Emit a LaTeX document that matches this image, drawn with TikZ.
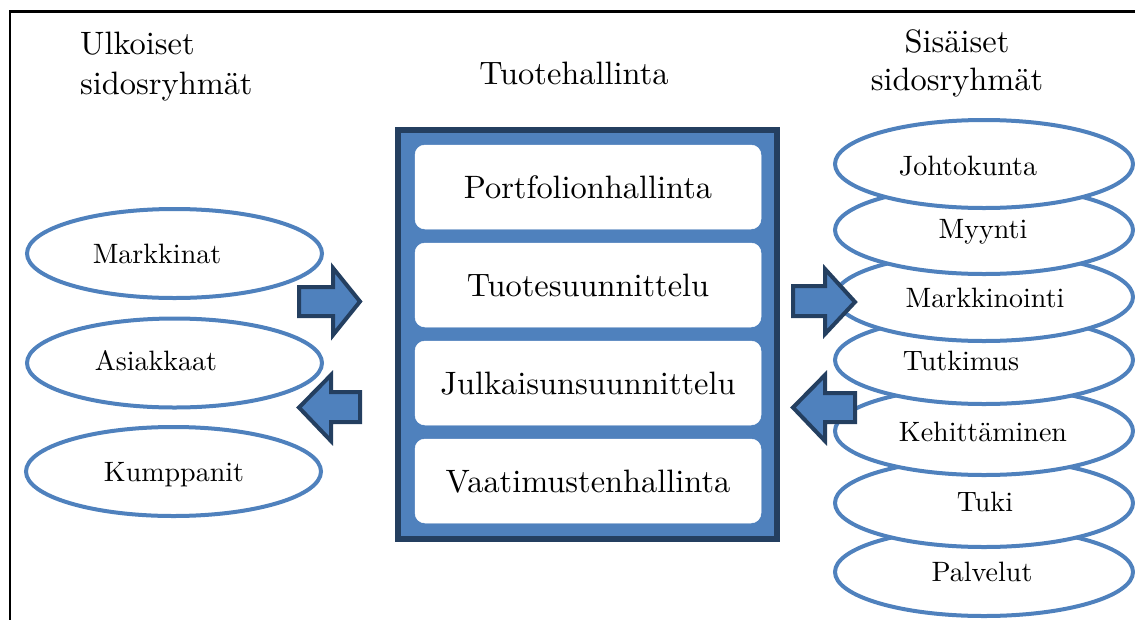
\documentclass[tikz,border=0pt]{standalone}
\usepackage{fontspec}
\setmainfont{lmroman10-regular.otf}
\usetikzlibrary{shapes.geometric}
\definecolor{accent}{HTML}{4F81BD}
\definecolor{accentdark}{HTML}{243F60}
\begin{document}
\begin{tikzpicture}[x=1pt,y=-1pt,
  ell/.style={ellipse,draw=accent,line width=4pt,fill=white,inner sep=0pt},
  leftell/.style={ell,minimum width=295pt,minimum height=89pt},
  rightell/.style={ell,minimum width=298pt,minimum height=88pt},
  ellfont/.style={font=\fontsize{28}{32}\selectfont,anchor=base,inner sep=0pt},
  title/.style={font=\fontsize{32.4}{38}\selectfont,anchor=base,inner sep=0pt},
  panel/.style={draw=accentdark,fill=accent,line width=6pt},
  item/.style={rounded corners=10pt,fill=white,draw=white,line width=0.5pt},
  itemtext/.style={font=\fontsize{32.4}{38}\selectfont,anchor=base,inner sep=0pt},
  blockarrow/.style={draw=accentdark,fill=accent,line width=4pt,line join=miter}]
\useasboundingbox (0,0) rectangle (1135,619);

% outer frame (only its top and left sides fall inside the page)
\draw[line width=2.5pt] (10,640) -- (10,11.5) -- (1150,11.5);

% headings
\node[title,anchor=base west] (h1a) at (80,54) {Ulkoiset};
\node[title,anchor=base west] (h1b) at (80,94) {sidosryhmät};
\node[title] (h2) at (574,84) {Tuotehallinta};
\node[title] (h3a) at (957,52) {Sisäiset};
\node[title] (h3b) at (957,90) {sidosryhmät};

% external stakeholders
\node[leftell] (markkinat) at (174.5,253.5) {};
\node[ellfont] (tmarkkinat) at (157,263) {Markkinat};
\node[leftell] (asiakkaat) at (174.5,363) {};
\node[ellfont] (tasiakkaat) at (156,370) {Asiakkaat};
\node[leftell] (kumppanit) at (173.5,471.5) {};
\node[ellfont] (tkumppanit) at (174,481) {Kumppanit};

% product management panel
\draw[panel] (398,130) rectangle (777,539);
\foreach \i/\t in {0/Portfolionhallinta,1/Tuotesuunnittelu,2/Julkaisunsuunnittelu,3/Vaatimustenhallinta}{
  \path[item] (415,145+98*\i) rectangle (761,229+98*\i);
  \node[itemtext] (item\i) at (588,198+98*\i) {\t};
}

% internal stakeholders, stacked (upper ones lie on top)
\node[rightell] (palvelut) at (984,572) {};
\node[ellfont] (tpalvelut) at (982,581) {Palvelut};
\node[rightell] (tuki) at (984,503) {};
\node[ellfont] (ttuki) at (985,511) {Tuki};
\node[rightell] (kehittaminen) at (984,431) {};
\node[ellfont] (tkehittaminen) at (983,441) {Kehittäminen};
\node[rightell] (tutkimus) at (984,360) {};
\node[ellfont] (ttutkimus) at (961,370) {Tutkimus};
\node[rightell] (markkinointi) at (984,297) {};
\node[ellfont] (tmarkkinointi) at (985,307) {Markkinointi};
\node[rightell] (myynti) at (984,230) {};
\node[ellfont] (tmyynti) at (983,238) {Myynti};
\node[rightell] (johtokunta) at (984,164) {};
\node[ellfont] (tjohtokunta) at (968,175) {Johtokunta};

% block arrows between the stakeholder groups and the panel
\draw[blockarrow] (299,287) -- (333,287) -- (333,268) -- (360,301.5) -- (333,335) -- (333,316) -- (299,316) -- cycle;
\draw[blockarrow] (360,392) -- (331,392) -- (331,375) -- (299,407.5) -- (331,441) -- (331,422) -- (360,422) -- cycle;
\draw[blockarrow] (793,286) -- (825,286) -- (825,269) -- (855,302) -- (825,334) -- (825,316) -- (793,316) -- cycle;
\draw[blockarrow] (855,393) -- (825,393) -- (825,375) -- (793,407.5) -- (825,441) -- (825,422) -- (855,422) -- cycle;
\end{tikzpicture}
\end{document}
